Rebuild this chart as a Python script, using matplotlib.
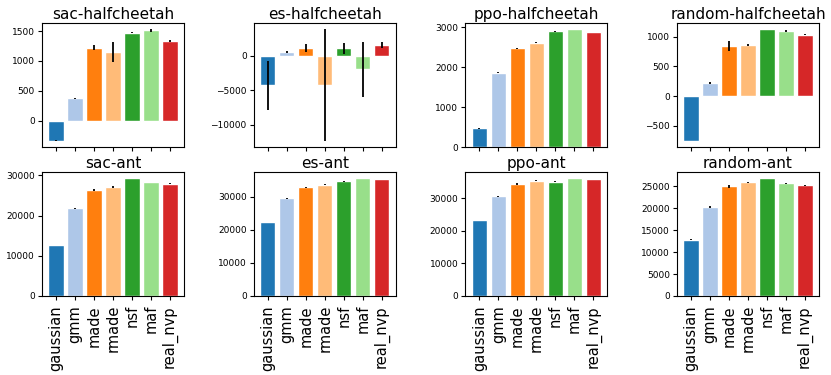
import matplotlib
matplotlib.use("Agg")
import matplotlib.pyplot as plt
import numpy as np

models = ["gaussian", "gmm", "made", "rmade", "nsf", "maf", "real_nvp"]
titles = ["sac-halfcheetah", "es-halfcheetah", "ppo-halfcheetah", "random-halfcheetah",
          "sac-ant", "es-ant", "ppo-ant", "random-ant"]

sac_halfcheetah = [-330, 380, 1220, 1150, 1470, 1510, 1335]
sac_halfcheetah_err = [15, 8, 40, 170, 8, 30, 12]
es_halfcheetah = [-4300, 600, 1100, -4250, 1100, -1950, 1600]
es_halfcheetah_err = [3600, 150, 620, 8200, 820, 4000, 450]
ppo_halfcheetah = [468, 1855, 2473, 2615, 2891, 2950, 2875]
ppo_halfcheetah_err = [8, 12, 15, 8, 10, 6, 6]
random_halfcheetah = [-760, 213, 843, 860, 1129, 1096, 1034]
random_halfcheetah_err = [5, 15, 85, 10, 6, 15, 8]
sac_ant = [12715, 21770, 26430, 27100, 29335, 28340, 27925]
sac_ant_err = [60, 120, 250, 150, 60, 80, 60]
es_ant = [22320, 29600, 32830, 33640, 34650, 35660, 35450]
es_ant_err = [60, 150, 250, 120, 60, 60, 60]
ppo_ant = [23345, 30610, 34500, 35430, 35120, 36245, 35940]
ppo_ant_err = [60, 120, 350, 80, 60, 60, 60]
random_ant = [12840, 20210, 25000, 25835, 26824, 25608, 25152]
random_ant_err = [60, 180, 350, 80, 60, 80, 80]

values = [sac_halfcheetah, es_halfcheetah, ppo_halfcheetah, random_halfcheetah,
          sac_ant, es_ant, ppo_ant, random_ant]
errors = [sac_halfcheetah_err, es_halfcheetah_err, ppo_halfcheetah_err, random_halfcheetah_err,
          sac_ant_err, es_ant_err, ppo_ant_err, random_ant_err]

cmap = plt.get_cmap("tab20")
colors = [cmap(i) for i in range(len(models))]

fig, axes = plt.subplots(2, 4, figsize=(8.31, 3.75), dpi=100)
fig.subplots_adjust(left=0.0505, right=0.9856, top=0.9387, bottom=0.2107,
                    wspace=0.49, hspace=0.2)

x = np.arange(len(models))
for i, ax in enumerate(axes.flat):
    ax.bar(x, values[i], yerr=errors[i], color=colors, edgecolor="white",
           linewidth=1, error_kw=dict(elinewidth=1.3, ecolor="black", capsize=0))
    ax.set_title(titles[i], fontsize=11, pad=3)
    ax.set_xticks(x)
    ax.tick_params(axis="y", labelsize=6.5, length=3, pad=2)
    ax.tick_params(axis="x", length=3)
    if i >= 4:
        ax.set_xticklabels(models, rotation=90, fontsize=10.5)
    else:
        ax.set_xticklabels([])

fig.savefig("out.png", dpi=100)
